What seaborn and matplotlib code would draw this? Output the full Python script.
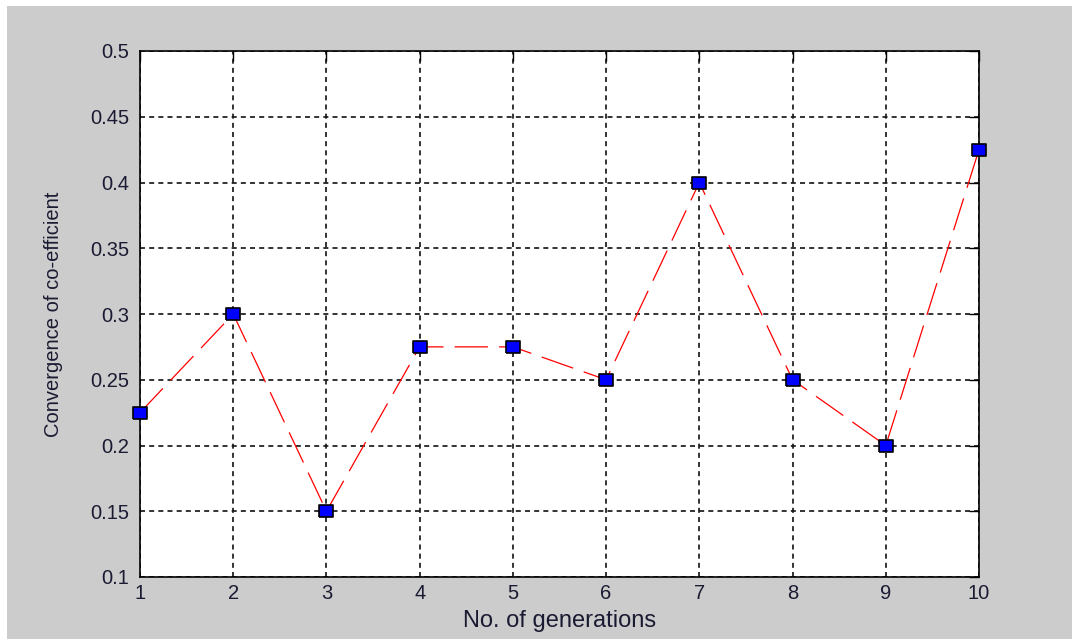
import numpy as np
import pandas as pd
import matplotlib
matplotlib.use('Agg')
import matplotlib.pyplot as plt
from matplotlib.patches import Rectangle
import seaborn as sns

# datos
generaciones = [1, 2, 3, 4, 5, 6, 7, 8, 9, 10]
coeficiente = [0.225, 0.3, 0.15, 0.275, 0.275, 0.25, 0.4, 0.25, 0.2, 0.425]
y_ticks = [0.1, 0.15, 0.2, 0.25, 0.3, 0.35, 0.4, 0.45, 0.5]
y_labels = ['0.1', '0.15', '0.2', '0.25', '0.3', '0.35', '0.4', '0.45', '0.5']

df = pd.DataFrame({'gen': generaciones, 'coef': coeficiente})

sns.set_style('white')
plt.rcParams['font.family'] = ['Liberation Sans', 'DejaVu Sans']
plt.rcParams['lines.scale_dashes'] = False

fig = plt.figure(figsize=(10.72, 6.42), dpi=100, facecolor='white')
# fondo gris tipo MATLAB
fig.patches.append(Rectangle((7 / 1072, 3 / 642), 1 - 7 / 1072, 1 - 9 / 642,
                             transform=fig.transFigure, facecolor='#cccccc',
                             edgecolor='none', zorder=-10))
ax = fig.add_axes([140 / 1072, 65 / 642, 839 / 1072, 526 / 642])
ax.set_facecolor('white')

# marcador cuadrado un poco mas ancho que alto, como en la imagen
marca = [(-1.18, -1), (1.18, -1), (1.18, 1), (-1.18, 1), (-1.18, -1)]

sns.lineplot(data=df, x='gen', y='coef', ax=ax, color='red', linewidth=0.9,
             linestyle=(0, (24, 8)), marker=marca, markersize=9.5,
             markerfacecolor='#0000ff', markeredgecolor='black',
             markeredgewidth=1.2, zorder=3, clip_on=False)

ax.set_xlim(1, 10)
ax.set_ylim(0.1, 0.5)
ax.set_xticks(generaciones)
ax.set_yticks(y_ticks)
ax.set_yticklabels(y_labels)

ax.grid(True, color='#1a1a1a', linestyle=(0, (3.6, 3)), linewidth=1.25)
for s in ax.spines.values():
    s.set_color('black')
    s.set_linewidth(1.2)
    s.set_visible(True)

ax.tick_params(axis='both', direction='in', length=7, width=1, colors='black',
               labelsize=14.5, labelcolor='#1a1a33', top=True, right=True)
ax.tick_params(axis='x', pad=5)
ax.tick_params(axis='y', pad=8)

ax.set_xlabel('No. of generations', fontsize=17, color='#1a1a33', labelpad=5)
ax.set_ylabel('Convergence of co-efficient', fontsize=14.5, color='#1a1a33', labelpad=19)

plt.savefig('out.png', dpi=100, facecolor=fig.get_facecolor())
